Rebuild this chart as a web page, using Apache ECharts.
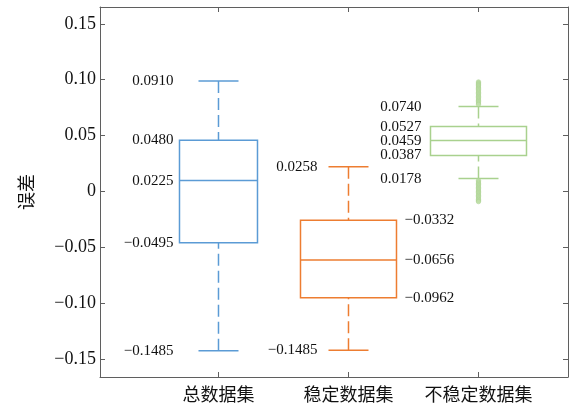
<!DOCTYPE html>
<html>
<head>
<meta charset="utf-8">
<script src="https://cdn.jsdelivr.net/npm/echarts@6/dist/echarts.min.js"></script>
<style>
html,body{margin:0;padding:0;background:#fff;}
#main{width:574px;height:410px;}
</style>
</head>
<body>
<div id="main"></div>
<script>
// ---------- data ----------
const categories = ['总数据集', '稳定数据集', '不稳定数据集'];
const categoryPos = [1, 2, 3];
const whiskerMax = [0.0989, 0.0222, 0.0759];
const upperQuartile = [0.0458, -0.0258, 0.0580];
const median = [0.0097, -0.0613, 0.0455];
const lowerQuartile = [-0.0458, -0.0951, 0.0321];
const whiskerMin = [-0.1425, -0.1421, 0.0115];
const outliersHigh = [0.0980, 0.0971, 0.0962, 0.0953, 0.0944, 0.0933, 0.0922, 0.0911, 0.0899, 0.0887, 0.0875, 0.0863, 0.0851, 0.0839, 0.0827, 0.0815, 0.0803, 0.0791, 0.0779];
const outliersLow = [0.0097, 0.0085, 0.0073, 0.0061, 0.0049, 0.0037, 0.0025, 0.0013, 0.0001, -0.0011, -0.0023, -0.0035, -0.0047, -0.0059, -0.0071, -0.0083, -0.0091];
const labelsTotal = ['0.0910', '0.0480', '0.0225', '\u22120.0495', '\u22120.1485'];
const labelsStableLeft = ['0.0258', '\u22120.1485'];
const labelsStableRight = ['\u22120.0332', '\u22120.0656', '\u22120.0962'];
const labelsUnstable = ['0.0740', '0.0527', '0.0459', '0.0387', '0.0178'];
const yTicks = [-0.15, -0.10, -0.05, 0, 0.05, 0.10, 0.15];
const yTickLabels = ['\u22120.15', '\u22120.10', '\u22120.05', '0', '0.05', '0.10', '0.15'];

// ---------- styles ----------
const COLORS = ['#5B9BD5', '#ED7D31', '#A9D18E'];
const BOX_WIDTHS = [78, 96, 96];
const CAP_WIDTH = 40;
const LINE_W = 1.5;
const AXIS_COLOR = '#5f5f5f';
const SERIF = '"Liberation Serif", "Noto Sans CJK SC", serif';

// ---------- label items (built from the arrays) ----------
const labelItems = [];
const totalVals = [whiskerMax[0], upperQuartile[0], median[0], lowerQuartile[0], whiskerMin[0]];
labelsTotal.forEach((t, k) => labelItems.push({x: categoryPos[0], y: totalVals[k], text: t, dx: -45, align: 'right'}));
const stableLeftVals = [whiskerMax[1], whiskerMin[1]];
labelsStableLeft.forEach((t, k) => labelItems.push({x: categoryPos[1], y: stableLeftVals[k], text: t, dx: -31, align: 'right'}));
const stableRightVals = [upperQuartile[1], median[1], lowerQuartile[1]];
labelsStableRight.forEach((t, k) => labelItems.push({x: categoryPos[1], y: stableRightVals[k], text: t, dx: 56, align: 'left'}));
const unstableVals = [whiskerMax[2], upperQuartile[2], median[2], lowerQuartile[2], whiskerMin[2]];
labelsUnstable.forEach((t, k) => labelItems.push({x: categoryPos[2], y: unstableVals[k], text: t, dx: -57, align: 'right'}));

const boxData = categoryPos.map((x, i) => [x, whiskerMax[i], upperQuartile[i], median[i], lowerQuartile[i], whiskerMin[i]]);
const outlierData = outliersHigh.concat(outliersLow).map(v => [categoryPos[2], v]);

const chart = echarts.init(document.getElementById('main'), null, {renderer: 'canvas'});

const X_MIN = 0.0885, X_MAX = 3.6885;
const Y_MIN = -0.166, Y_MAX = 0.165;

const option = {
  backgroundColor: '#fff',
  animation: false,
  grid: {left: 100, right: 6, top: 7, bottom: 33, containLabel: false},
  xAxis: [{
    type: 'value', min: X_MIN, max: X_MAX, position: 'bottom',
    axisLine: {show: true, onZero: false, lineStyle: {color: AXIS_COLOR, width: 1}},
    axisTick: {show: true, inside: true, length: 5, customValues: categoryPos, lineStyle: {color: AXIS_COLOR}},
    axisLabel: {show: true, customValues: categoryPos, margin: 10,
      formatter: v => categories[categoryPos.indexOf(Math.round(v))] || '',
      fontFamily: SERIF, fontSize: 18, color: '#111'},
    splitLine: {show: false}
  }, {
    type: 'value', min: X_MIN, max: X_MAX, position: 'top',
    axisLine: {show: true, onZero: false, lineStyle: {color: AXIS_COLOR, width: 1}},
    axisTick: {show: true, inside: true, length: 5, customValues: categoryPos, lineStyle: {color: AXIS_COLOR}},
    axisLabel: {show: false},
    splitLine: {show: false}
  }],
  yAxis: [{
    type: 'value', min: Y_MIN, max: Y_MAX, position: 'left',
    name: '误差', nameLocation: 'middle', nameGap: 63, nameRotate: 90,
    nameTextStyle: {fontFamily: SERIF, fontSize: 18, color: '#111'},
    axisLine: {show: true, onZero: false, lineStyle: {color: AXIS_COLOR, width: 1}},
    axisTick: {show: true, inside: true, length: 5, customValues: yTicks, lineStyle: {color: AXIS_COLOR}},
    axisLabel: {show: true, customValues: yTicks, margin: 4,
      formatter: v => { const k = yTicks.findIndex(t => Math.abs(t - v) < 1e-9); return k >= 0 ? yTickLabels[k] : ''; },
      fontFamily: SERIF, fontSize: 18, color: '#111'},
    splitLine: {show: false}
  }, {
    type: 'value', min: Y_MIN, max: Y_MAX, position: 'right',
    axisLine: {show: true, onZero: false, lineStyle: {color: AXIS_COLOR, width: 1}},
    axisTick: {show: true, inside: true, length: 5, customValues: yTicks, lineStyle: {color: AXIS_COLOR}},
    axisLabel: {show: false},
    splitLine: {show: false}
  }],
  series: [{
    type: 'custom',
    xAxisIndex: 0, yAxisIndex: 0,
    data: boxData,
    renderItem: function (params, api) {
      const i = params.dataIndex;
      const x = api.value(0);
      const pMax = api.coord([x, api.value(1)]);
      const pQ3 = api.coord([x, api.value(2)]);
      const pMed = api.coord([x, api.value(3)]);
      const pQ1 = api.coord([x, api.value(4)]);
      const pMin = api.coord([x, api.value(5)]);
      const cx = pMed[0];
      const hw = BOX_WIDTHS[i] / 2, cw = CAP_WIDTH / 2;
      const c = COLORS[i];
      const solid = {stroke: c, lineWidth: LINE_W, fill: null};
      const dashed = {stroke: c, lineWidth: LINE_W, fill: null, lineDash: [12, 5]};
      return {
        type: 'group',
        children: [
          {type: 'line', shape: {x1: cx, y1: pMax[1], x2: cx, y2: pQ3[1]}, style: dashed},
          {type: 'line', shape: {x1: cx, y1: pMin[1], x2: cx, y2: pQ1[1]}, style: dashed},
          {type: 'line', shape: {x1: cx - cw, y1: pMax[1], x2: cx + cw, y2: pMax[1]}, style: solid},
          {type: 'line', shape: {x1: cx - cw, y1: pMin[1], x2: cx + cw, y2: pMin[1]}, style: solid},
          {type: 'rect', shape: {x: cx - hw, y: pQ3[1], width: 2 * hw, height: pQ1[1] - pQ3[1]}, style: {stroke: c, lineWidth: LINE_W, fill: '#fff'}},
          {type: 'line', shape: {x1: cx - hw, y1: pMed[1], x2: cx + hw, y2: pMed[1]}, style: solid}
        ]
      };
    }
  }, {
    type: 'scatter',
    xAxisIndex: 0, yAxisIndex: 0,
    data: outlierData,
    symbol: 'circle',
    symbolSize: 4.5,
    itemStyle: {color: '#BEDDA8', borderColor: '#A9D18E', borderWidth: 0.6},
    z: 3
  }, {
    type: 'custom',
    xAxisIndex: 0, yAxisIndex: 0,
    data: labelItems.map(d => [d.x, d.y]),
    renderItem: function (params, api) {
      const d = labelItems[params.dataIndex];
      const p = api.coord([api.value(0), api.value(1)]);
      return {
        type: 'text',
        x: p[0] + d.dx, y: p[1],
        style: {text: d.text, fill: '#111', fontFamily: SERIF, fontSize: 15,
          textAlign: d.align, textVerticalAlign: 'middle'}
      };
    }
  }]
};
chart.setOption(option);
</script>
</body>
</html>
